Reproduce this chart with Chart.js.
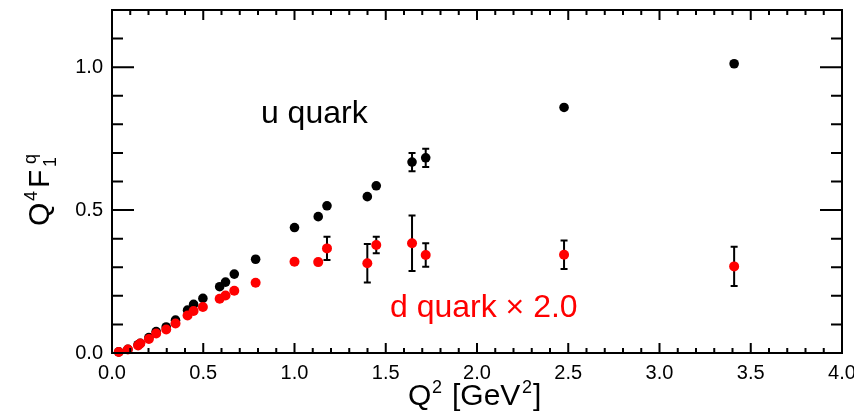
<!DOCTYPE html>
<html><head><meta charset="utf-8">
<script src="https://cdn.jsdelivr.net/npm/chart.js@4/dist/chart.umd.min.js"></script>
<style>html,body{margin:0;padding:0;background:#fff;}#wrap{width:854px;height:412px;position:relative;}</style>
</head><body><div id="wrap"><canvas id="c"></canvas></div>
<script>
// ---- data ----
const q2      = [0.037,0.087,0.143,0.155,0.202,0.242,0.297,0.348,0.414,0.447,0.498,0.590,0.622,0.670,0.787,1.000,1.130,1.178,1.399,1.448,1.644,1.719,2.477,3.409];
const uQuark  = [0.004,0.013,0.029,0.034,0.054,0.075,0.091,0.115,0.150,0.170,0.191,0.232,0.248,0.276,0.328,0.439,0.477,0.515,0.547,0.585,0.668,0.683,0.859,1.012];
const uErr    = [0,0,0,0,0,0,0,0,0,0,0,0,0,0,0,0,0,0,0,0,0.032,0.032,0,0];
const dQuark2 = [0.0035,0.012,0.026,0.033,0.049,0.068,0.082,0.103,0.131,0.147,0.161,0.190,0.201,0.218,0.246,0.319,0.318,0.366,0.314,0.378,0.384,0.343,0.344,0.303];
const dErr    = [0,0,0,0,0,0,0,0,0,0,0,0,0,0,0,0,0,0.041,0.067,0.029,0.097,0.041,0.050,0.069];
const xTickLabels = ['0.0','0.5','1.0','1.5','2.0','2.5','3.0','3.5','4.0'];
const yTickLabels = ['0.0','0.5','1.0'];
const seriesLabels = ['u quark','d quark \u00d7 2.0'];
const labelPos = [[0.816,0.805],[1.523,0.125]]; // data coords of in-plot labels (left, baseline)

const FONT = "'Liberation Sans', Arial, Helvetica, sans-serif";
const isMajor = v => Math.abs(v/0.5 - Math.round(v/0.5)) < 1e-6;
const majorLabel = (v, arr) => isMajor(v) ? arr[Math.round(v/0.5)] : '';

const errPlugin = {
  id:'err',
  beforeDatasetsDraw(chart){
    const ctx = chart.ctx, xs = chart.scales.x, ys = chart.scales.y;
    const sets = [[uQuark,uErr],[dQuark2,dErr]];
    ctx.save(); ctx.strokeStyle='#000'; ctx.lineWidth=2;
    sets.forEach(([vals,errs])=>{
      vals.forEach((v,i)=>{
        if(!errs[i]) return;
        const px = xs.getPixelForValue(q2[i]);
        const y1 = ys.getPixelForValue(v+errs[i]), y2 = ys.getPixelForValue(v-errs[i]);
        ctx.beginPath();
        ctx.moveTo(px,y1); ctx.lineTo(px,y2);
        ctx.moveTo(px-3.5,y1); ctx.lineTo(px+3.5,y1);
        ctx.moveTo(px-3.5,y2); ctx.lineTo(px+3.5,y2);
        ctx.stroke();
      });
    });
    ctx.restore();
  }
};

function drawRich(ctx, parts, x, y){
  // parts: [text, size, dy, offset along baseline]
  parts.forEach(p=>{
    ctx.font = p[1]+'px '+FONT;
    ctx.fillText(p[0], x + p[3], y + p[2]);
  });
}

const framePlugin = {
  id:'frame',
  afterDatasetsDraw(chart){
    const ctx = chart.ctx, a = chart.chartArea, xs = chart.scales.x, ys = chart.scales.y;
    ctx.save();
    ctx.strokeStyle='#000'; ctx.lineWidth=2;
    ctx.strokeRect(a.left, a.top, a.right-a.left, a.bottom-a.top);
    ctx.beginPath();
    xs.ticks.forEach(t=>{
      const px = xs.getPixelForValue(t.value); const L = isMajor(t.value)?10:5;
      ctx.moveTo(px,a.bottom); ctx.lineTo(px,a.bottom-L);
      ctx.moveTo(px,a.top); ctx.lineTo(px,a.top+L);
    });
    ys.ticks.forEach(t=>{
      const py = ys.getPixelForValue(t.value); const L = isMajor(t.value)?22:11;
      ctx.moveTo(a.left,py); ctx.lineTo(a.left+L,py);
      ctx.moveTo(a.right,py); ctx.lineTo(a.right-L,py);
    });
    ctx.stroke();
    // in-plot labels
    ctx.textBaseline='alphabetic'; ctx.textAlign='left';
    ctx.font = '32px '+FONT;
    ctx.fillStyle='#000';
    ctx.fillText(seriesLabels[0], xs.getPixelForValue(labelPos[0][0]), ys.getPixelForValue(labelPos[0][1]));
    ctx.fillStyle='#ff0000';
    ctx.fillText(seriesLabels[1], xs.getPixelForValue(labelPos[1][0]), ys.getPixelForValue(labelPos[1][1]));
    // axis titles
    ctx.fillStyle='#000';
    drawRich(ctx, [['Q',30,0,0],['2',18,-12,24],['[GeV',30,0,44],['2',18,-12,114],[']',30,0,125]], 408, 405);
    ctx.translate(49, 226); ctx.rotate(-Math.PI/2);
    drawRich(ctx, [['Q',30,0,0],['4',18,-12,25],['F',30,0,38],['1',18,7,59],['q',18,-13,62]], 0, 0);
    ctx.restore();
  }
};

new Chart(document.getElementById('c'), {
  type:'scatter',
  data:{datasets:[
    {label:seriesLabels[1], data:q2.map((x,i)=>({x, y:dQuark2[i]})), backgroundColor:'#ff0000', borderWidth:0, pointRadius:5, clip:false, order:1},
    {label:seriesLabels[0], data:q2.map((x,i)=>({x, y:uQuark[i]})), backgroundColor:'#000000', borderWidth:0, pointRadius:4.8, clip:false, order:2}
  ]},
  options:{
    responsive:true, maintainAspectRatio:false, animation:false,
    layout:{padding:{left:0,right:12,top:10,bottom:0}},
    plugins:{legend:{display:false}, tooltip:{enabled:false}},
    events:[],
    scales:{
      x:{type:'linear', min:0, max:4,
         afterFit(s){s.height=59; s.paddingLeft=0; s.paddingRight=0;},
         grid:{display:false, drawTicks:false}, border:{display:false},
         ticks:{stepSize:0.1, autoSkip:false, maxRotation:0, padding:8, color:'#000', font:{family:FONT,size:20},
                callback:v=>majorLabel(v,xTickLabels)}},
      y:{type:'linear', min:0, max:1.2,
         afterFit(s){s.width=112; s.paddingTop=0; s.paddingBottom=0;},
         grid:{display:false, drawTicks:false}, border:{display:false},
         ticks:{stepSize:0.1, autoSkip:false, padding:9, color:'#000', font:{family:FONT,size:20},
                callback:v=>majorLabel(v,yTickLabels)}}
    }
  },
  plugins:[errPlugin, framePlugin]
});
</script></body></html>
